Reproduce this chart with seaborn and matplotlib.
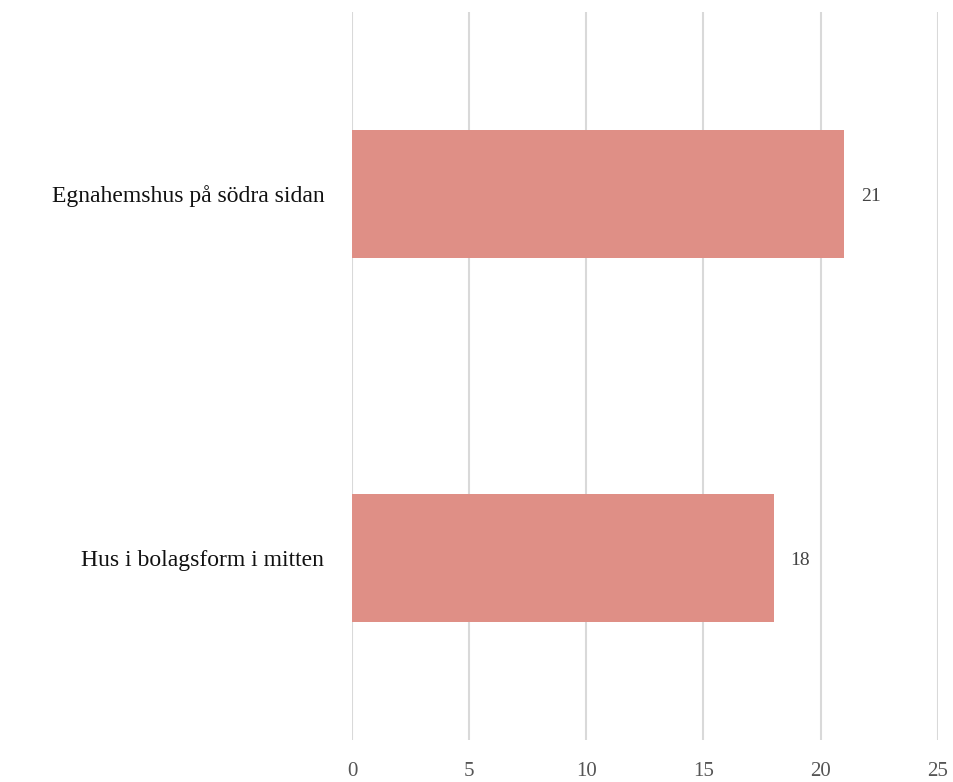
import matplotlib
matplotlib.use("Agg")
import matplotlib.pyplot as plt
import seaborn as sns
import pandas as pd

categories = ["Egnahemshus på södra sidan", "Hus i bolagsform i mitten"]
values = [21, 18]
xticks = [0, 5, 10, 15, 20, 25]

sns.set_theme(style="white")
plt.rcParams['font.family'] = ['Liberation Serif', 'DejaVu Serif']

df = pd.DataFrame({"cat": categories, "val": values})

fig = plt.figure(figsize=(9.54, 7.82), dpi=100)
ax = fig.add_axes([0.369, 0.0537, 0.614, 0.931])

sns.barplot(data=df, x="val", y="cat", orient="h", color="#DF8F86",
            saturation=1, width=0.353, linewidth=0, ax=ax, zorder=2)

ax.set_xlim(0, 25)
ax.set_ylim(1.5, -0.5)
ax.set_xticks(xticks)
ax.set_xticklabels([str(t) for t in xticks])
ax.xaxis.grid(True, color="#d9d9d9", linewidth=1.5, zorder=0)
ax.set_axisbelow(True)
for s in ax.spines.values():
    s.set_visible(False)
ax.tick_params(axis="x", length=0, pad=16, labelsize=15, labelcolor="#555555")
ax.tick_params(axis="y", length=0, pad=20, labelsize=17, labelcolor="#111111")
ax.set_xlabel("")
ax.set_ylabel("")

for i, v in enumerate(values):
    ax.annotate(str(v), xy=(v, i), xytext=(12, -2), textcoords="offset points",
                va="center", ha="left", fontsize=14, color="#444444")

fig.savefig("out.png", dpi=100)
